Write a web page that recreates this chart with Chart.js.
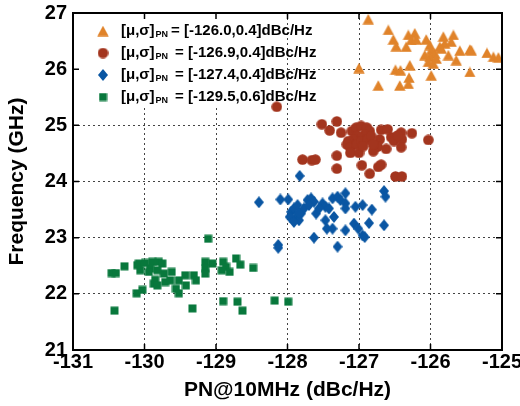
<!DOCTYPE html>
<html>
<head>
<meta charset="utf-8">
<script src="https://cdn.jsdelivr.net/npm/chart.js@4/dist/chart.umd.min.js"></script>
<style>
  html, body { margin: 0; padding: 0; background: #fff; }
  #wrap { width: 520px; height: 406px; position: relative; }
</style>
</head>
<body>
<div id="wrap"><canvas id="c"></canvas></div>
<script>
const FONT = "'Liberation Sans', Arial, Helvetica, sans-serif";

// tick ranges
const X_MIN = -131, X_MAX = -125;
const Y_MIN = 21, Y_MAX = 27;

// legend text: [mu, sigma] of PN per series
const seriesMu = ['-126.0', '-126.9', '-127.4', '-129.5'];
const seriesSigma = ['0.4', '0.4', '0.4', '0.6'];
const seriesColor = ['#E0832A', '#A3351E', '#0A56A3', '#08783C'];

// orange triangles
const triX = [-126.87, -127.0, -126.73, -126.59, -126.52, -126.48, -126.49, -126.42, -126.29, -126.30,
  -126.43, -126.31, -126.31, -126.22, -126.27, -126.34, -126.20, -126.06, -126.01, -125.99,
  -125.94, -126.01, -126.03, -125.96, -125.99, -125.82, -125.80, -125.68, -125.71, -125.85,
  -125.75, -125.64, -125.59, -125.45, -125.43, -125.45, -125.21, -125.12, -125.05, -125.92,
  -126.08, -125.87];
const triY = [26.89, 26.02, 25.71, 26.70, 26.53, 26.41, 25.99, 25.98, 26.07, 25.85,
  25.71, 25.74, 26.61, 26.64, 26.52, 26.40, 26.53, 26.53, 26.43, 26.34,
  26.28, 26.22, 26.13, 26.10, 25.89, 26.58, 26.46, 26.61, 26.49, 26.37,
  26.25, 26.16, 26.33, 26.35, 26.34, 25.95, 26.29, 26.22, 26.21, 26.19,
  26.25, 26.40];

// dark red circles
const cirX = [-128.15, -127.52, -127.41, -127.31, -127.25, -127.10, -127.04, -126.97, -126.89, -126.85,
  -126.92, -127.02, -127.08, -127.15, -127.17, -127.12, -127.03, -126.97, -126.88, -126.83,
  -126.69, -126.71, -126.74, -126.62, -126.55, -126.51, -126.41, -126.40, -126.41, -126.26,
  -126.03, -127.12, -127.00, -127.31, -127.31, -126.96, -126.85, -126.73, -126.69, -126.49,
  -126.40, -127.79, -127.66, -127.61, -126.80, -126.94, -126.80, -126.46, -126.60];
const cirY = [25.33, 25.02, 24.91, 25.07, 24.87, 24.90, 24.96, 24.99, 24.96, 24.90,
  24.84, 24.81, 24.75, 24.72, 24.66, 24.60, 24.66, 24.72, 24.75, 24.81,
  24.92, 24.75, 24.62, 24.58, 24.79, 24.72, 24.87, 24.75, 24.61, 24.86,
  24.74, 24.51, 24.51, 24.46, 24.23, 24.29, 24.14, 24.26, 24.30, 24.09,
  24.09, 24.39, 24.38, 24.39, 24.54, 24.63, 24.66, 24.82, 24.93];

// blue diamonds
const diaX = [-127.83, -128.40, -128.10, -127.99, -128.13, -128.13, -127.95, -127.91, -127.86, -127.81,
  -127.88, -127.97, -127.84, -127.77, -127.72, -127.67, -127.63, -127.70, -127.60, -127.51,
  -127.47, -127.42, -127.47, -127.35, -127.37, -127.37, -127.30, -127.26, -127.19, -127.19,
  -127.19, -127.05, -126.95, -126.82, -127.07, -127.01, -127.19, -126.95, -126.92, -126.86,
  -126.65, -126.65, -126.63, -127.63, -127.30, -127.56, -127.84, -127.91, -127.45];
const diaY = [24.10, 23.63, 23.68, 23.68, 22.87, 22.82, 23.46, 23.52, 23.58, 23.43,
  23.37, 23.37, 23.31, 23.52, 23.67, 23.70, 23.64, 23.58, 23.43, 23.61,
  23.55, 23.52, 23.31, 23.37, 23.16, 23.70, 23.73, 23.67, 23.79, 23.61,
  23.52, 23.55, 23.58, 23.50, 23.25, 23.16, 23.13, 23.04, 23.01, 23.26,
  23.22, 23.83, 23.73, 23.00, 22.84, 23.52, 23.44, 23.28, 23.16];

// green squares
const sqX = [-129.11, -130.46, -130.40, -130.28, -130.08, -130.06, -129.99, -129.89, -129.80, -129.75,
  -129.92, -129.82, -129.62, -129.73, -129.85, -129.87, -129.82, -129.71, -129.64, -129.52,
  -129.56, -129.52, -129.43, -129.42, -129.31, -129.28, -130.11, -130.03, -130.42, -129.33,
  -129.15, -129.15, -129.15, -129.05, -128.90, -128.86, -128.92, -128.81, -128.72, -128.66,
  -128.48, -128.90, -128.70, -128.63, -128.18, -127.99, -130.10, -129.94];
const sqY = [22.98, 22.37, 22.37, 22.49, 22.54, 22.42, 22.55, 22.57, 22.57, 22.54,
  22.45, 22.42, 22.39, 22.36, 22.25, 22.18, 22.15, 22.21, 22.24, 22.24,
  22.09, 22.01, 22.33, 22.15, 22.33, 22.24, 22.01, 22.07, 21.70, 21.74,
  22.57, 22.45, 22.36, 22.54, 22.57, 22.48, 22.42, 22.39, 22.63, 22.52,
  22.46, 21.87, 21.86, 21.70, 21.88, 21.86, 22.51, 22.39];

function pts(xs, ys) {
  return xs.map((x, i) => ({ x, y: ys[i] }));
}

// small canvases used as point styles
function marker(shape, color) {
  const sizes = { tri: [12, 11], cir: [11, 11], dia: [10, 12], sq: [9, 9] };
  const [w, h] = sizes[shape];
  const cv = document.createElement('canvas');
  cv.width = w;
  cv.height = h;
  const g = cv.getContext('2d');
  g.fillStyle = color;
  g.beginPath();
  if (shape === 'tri') {
    g.moveTo(w / 2, 0.3); g.lineTo(w - 0.3, h - 0.3); g.lineTo(0.3, h - 0.3);
  } else if (shape === 'cir') {
    g.arc(w / 2, h / 2, 5.3, 0, Math.PI * 2);
  } else if (shape === 'dia') {
    g.moveTo(w / 2, 0); g.lineTo(w, h / 2); g.lineTo(w / 2, h); g.lineTo(0, h / 2);
  } else {
    g.rect(0.5, 0.5, w - 1, h - 1);
  }
  g.closePath();
  g.fill();
  return cv;
}

const markers = [
  marker('tri', seriesColor[0]),
  marker('cir', seriesColor[1]),
  marker('dia', seriesColor[2]),
  marker('sq', seriesColor[3]),
];

const frameAndLegend = {
  id: 'frameAndLegend',
  beforeDatasetsDraw(chart) {
    const { ctx, chartArea: a, scales } = chart;
    // opaque legend box
    const boxRight = scales.x.getPixelForValue(-128) - 1;
    ctx.save();
    ctx.fillStyle = '#fff';
    ctx.fillRect(a.left + 1, a.top + 1, boxRight - a.left - 1, 106 - a.top);
    const rows = [31, 53, 75, 97];
    rows.forEach((yy, i) => {
      const m = markers[i];
      ctx.drawImage(m, 103 - m.width / 2, yy - m.height / 2);
      ctx.fillStyle = '#000';
      ctx.textBaseline = 'middle';
      ctx.font = 'bold 15px ' + FONT;
      let xx = 121;
      ctx.fillText('[\u03bc,\u03c3]', xx, yy);
      xx += ctx.measureText('[\u03bc,\u03c3]').width + 1;
      ctx.font = 'bold 9px ' + FONT;
      ctx.fillText('PN', xx, yy + 4);
      xx += ctx.measureText('PN').width + (i === 0 ? 3 : 7);
      ctx.font = 'bold 15px ' + FONT;
      ctx.fillText('= [' + seriesMu[i] + ',' + seriesSigma[i] + ']dBc/Hz', xx, yy);
    });
    ctx.restore();
  },
  afterDatasetsDraw(chart) {
    const { ctx, chartArea: a, scales } = chart;
    ctx.save();
    ctx.strokeStyle = '#000';
    ctx.lineWidth = 1.5;
    ctx.beginPath();
    for (let v = X_MIN + 1; v < X_MAX; v++) {
      const px = scales.x.getPixelForValue(v);
      ctx.moveTo(px, a.top); ctx.lineTo(px, a.top + 6);
      ctx.moveTo(px, a.bottom); ctx.lineTo(px, a.bottom - 6);
    }
    for (let v = Y_MIN + 1; v < Y_MAX; v++) {
      const py = scales.y.getPixelForValue(v);
      ctx.moveTo(a.left, py); ctx.lineTo(a.left + 6, py);
      ctx.moveTo(a.right, py); ctx.lineTo(a.right - 6, py);
    }
    ctx.stroke();
    ctx.lineWidth = 2;
    ctx.strokeRect(a.left, a.top, a.right - a.left, a.bottom - a.top);
    ctx.restore();
  },
};

const allX = [triX, cirX, diaX, sqX];
const allY = [triY, cirY, diaY, sqY];

new Chart(document.getElementById('c'), {
  type: 'scatter',
  data: {
    datasets: allX.map((xs, i) => ({
      label: '[\u03bc,\u03c3]PN = [' + seriesMu[i] + ',' + seriesSigma[i] + ']dBc/Hz',
      data: pts(xs, allY[i]),
      pointStyle: markers[i],
      pointRadius: 5,
      pointHoverRadius: 5,
      backgroundColor: seriesColor[i],
      borderColor: seriesColor[i],
    })),
  },
  options: {
    responsive: true,
    maintainAspectRatio: false,
    animation: false,
    devicePixelRatio: 1,
    layout: { padding: { top: 13, right: 18, left: 0, bottom: 0 } },
    plugins: { legend: { display: false }, tooltip: { enabled: false } },
    scales: {
      x: {
        type: 'linear',
        min: X_MIN,
        max: X_MAX,
        ticks: { stepSize: 1, color: '#000', font: { family: FONT, size: 20, weight: 'bold' }, padding: 0, maxRotation: 0, autoSkip: false },
        grid: { color: '#444', lineWidth: 1, drawTicks: false },
        border: { display: false, dash: [2, 3] },
        title: { display: true, text: 'PN@10MHz (dBc/Hz)', color: '#000', font: { family: FONT, size: 21, weight: 'bold' }, padding: { top: 0, bottom: 3 } },
        afterFit(s) { s.height = 56; s.paddingLeft = 0; s.paddingRight = 0; },
      },
      y: {
        type: 'linear',
        min: Y_MIN,
        max: Y_MAX,
        ticks: { stepSize: 1, color: '#000', font: { family: FONT, size: 20, weight: 'bold' }, padding: 6 },
        grid: { color: '#444', lineWidth: 1, drawTicks: false },
        border: { display: false, dash: [2, 3] },
        title: { display: true, text: 'Frequency (GHz)', color: '#000', font: { family: FONT, size: 21, weight: 'bold' }, padding: { top: 5, bottom: 0 } },
        afterFit(s) { s.width = 73; s.paddingTop = 0; s.paddingBottom = 0; },
      },
    },
  },
  plugins: [frameAndLegend],
});
</script>
</body>
</html>
